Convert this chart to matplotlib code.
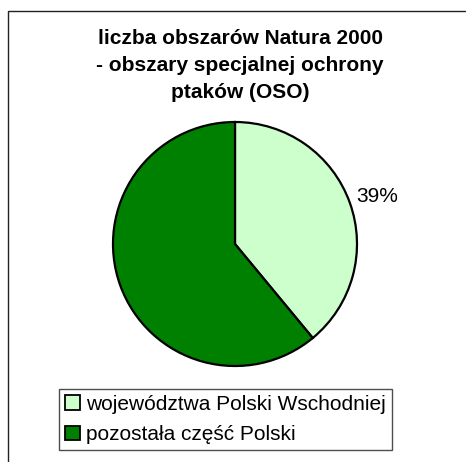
import matplotlib
matplotlib.use("Agg")
import matplotlib.pyplot as plt
from matplotlib.patches import Rectangle
from matplotlib.transforms import offset_copy

plt.rcParams['font.family'] = ['Liberation Sans', 'DejaVu Sans']

title = "liczba obszarów Natura 2000\n- obszary specjalnej ochrony\nptaków (OSO)"
categories = ["województwa Polski Wschodniej", "pozostała część Polski"]
values = [39, 61]
colors = ["#CCFFCC", "#008000"]
shown_labels = [True, False]

W, H = 466, 462
fig = plt.figure(figsize=(W / 100, H / 100), dpi=100)

# outer border (runs off the right and bottom edges, as in the reference)
fig.patches.append(Rectangle((8 / W, -0.05), 1.1, 1.05 - 11 / H,
                             transform=fig.transFigure, fill=False,
                             edgecolor="#222222", linewidth=1.0))

fig.text(240 / W, 1 - 65.5 / H, title, ha="center", va="center",
         fontsize=15, fontweight="bold", linespacing=1.5)

cx, cy, r = 235, 244, 122
ax = fig.add_axes([(cx - r) / W, (H - cy - r) / H, 2 * r / W, 2 * r / H])
total = sum(values)
labels = [f"{v / total * 100:.0f}%" if s else "" for v, s in zip(values, shown_labels)]
wedges, texts = ax.pie(values, colors=colors, startangle=90, counterclock=False,
                       labels=labels, labeldistance=1.06,
                       wedgeprops=dict(edgecolor="black", linewidth=1.6),
                       textprops=dict(fontsize=15))
for t in texts:
    t.set_va("center")
    t.set_transform(offset_copy(ax.transData, fig=fig, x=0, y=3, units="points"))
ax.set_xlim(-1, 1)
ax.set_ylim(-1, 1)
ax.set_aspect("equal")
ax.axis("off")

leg = fig.legend(wedges, categories, loc="center",
                 bbox_to_anchor=(225.5 / W, 1 - 419.5 / H),
                 fontsize=15, frameon=True, fancybox=False,
                 handlelength=0.7, handleheight=0.7, handletextpad=0.3,
                 borderpad=0.3, labelspacing=0.55, borderaxespad=0)
leg.get_frame().set_edgecolor("#222222")
leg.get_frame().set_linewidth(1.0)
for h in leg.legend_handles:
    h.set_linewidth(1.3)

fig.savefig("out.png", dpi=100)
